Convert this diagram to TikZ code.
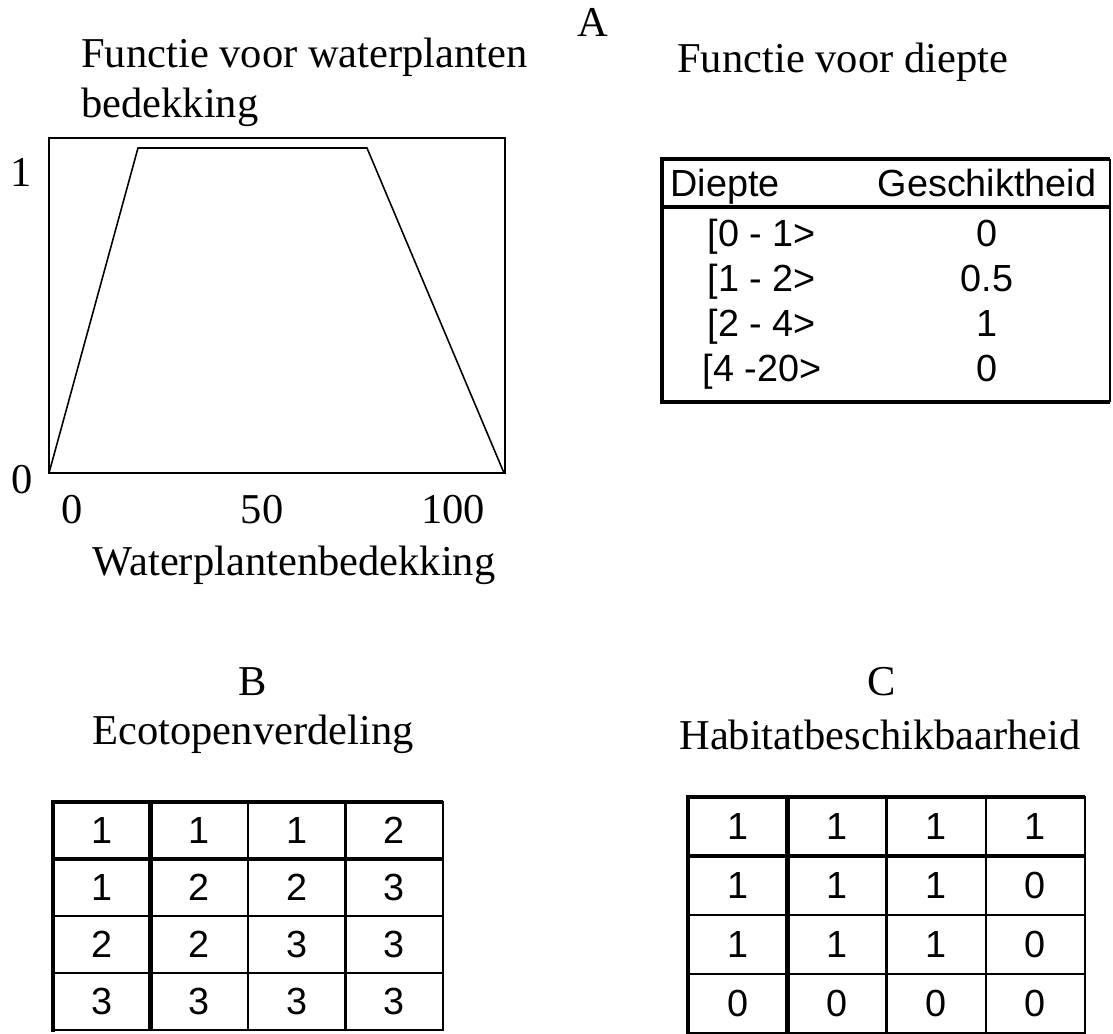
\documentclass[tikz,border=0pt]{standalone}
\usepackage{fontspec}
\setmainfont{Liberation Serif}
\newfontfamily\tabfont{Liberation Sans}
\usetikzlibrary{positioning}

\begin{document}
\begin{tikzpicture}[
  x=0.02cm, y=-0.02cm,
  ttl/.style={font=\fontsize{24.2}{29}\selectfont, inner sep=0pt},
  cell/.style={font=\tabfont\fontsize{21.5}{26}\selectfont, inner sep=0pt},
  thickline/.style={line width=2.8pt},
  thinline/.style={line width=1.4pt},
  curve/.style={line width=0.9pt, line join=miter}
]
\useasboundingbox (0,0) rectangle (1113,1034);

% A: functie voor waterplanten
\node[ttl, anchor=base] (lblA) at (593,37) {A};
\node[ttl, anchor=base west] (ttlplant) at (81,68) {Functie voor waterplanten};
\node[ttl, anchor=base west] (ttlplantb) at (81,118) {bedekking};
\draw[line width=1.3pt] (49,138) rectangle (505,473);
\draw[curve] (49,473) -- (138,148) -- (367,148) -- (504,473);
\node[ttl, anchor=base] (yone) at (21,187) {1};
\node[ttl, anchor=base] (yzero) at (22,493) {0};
\foreach \v/\x in {0/72, 50/262, 100/453}
  \node[ttl, anchor=base] (xt\v) at (\x,523) {\v};
\node[ttl, anchor=base] (xlabel) at (294,575) {Waterplantenbedekking};

% A: functie voor diepte
\node[ttl, anchor=base west] (ttldepth) at (677,73) {Functie voor diepte};
\draw[thinline] (1110,159) -- (1110,402);
\draw[thickline] (662,159) -- (1110,159);
\draw[thickline] (662,207) -- (1110,207);
\draw[thickline] (662,402) -- (1110,402);
\draw[thickline] (662,157) -- (662,404);
\node[cell, anchor=base west] (hdepth) at (670,196) {Diepte};
\node[cell, anchor=base] (hsuit) at (987,196) {Geschiktheid};
\foreach \d/\s [count=\r] in {{[0 - 1>}/0, {[1 - 2>}/0.5, {[2 - 4>}/1, {[4 -20>}/0} {
  \node[cell, anchor=base] (dep\r) at (762,{201+45*\r}) {\d};
  \node[cell, anchor=base] (suit\r) at (987,{201+45*\r}) {\s};
}

% B: ecotopenverdeling
\node[ttl, anchor=base] (lblB) at (253,695) {B};
\node[ttl, anchor=base] (ttleco) at (253,744) {Ecotopenverdeling};
\draw[thinline] (53,802) rectangle (443,1030);
\foreach \c in {2,3} \draw[thinline] ({53+97.5*\c},802) -- ({53+97.5*\c},1030);
\foreach \r in {2,3} \draw[thinline] (53,{802+57*\r}) -- (443,{802+57*\r});
\draw[thickline] (53,802) -- (443,802);
\draw[thickline] (53,859) -- (443,859);
\draw[thickline] (53,800) -- (53,1032);
\draw[thickline] (150.5,802) -- (150.5,1030);
\foreach \row [count=\r] in {{1,1,1,2},{1,2,2,3},{2,2,3,3},{3,3,3,3}}
  \foreach \v [count=\c] in \row
    \node[cell] (eco-\r-\c) at ({53+97.5*(\c-0.5)},{802+57*(\r-0.5)}) {\v};

% C: habitatbeschikbaarheid
\node[ttl, anchor=base] (lblC) at (882,695) {C};
\node[ttl, anchor=base] (ttlhab) at (880,749) {Habitatbeschikbaarheid};
\draw[thinline] (688,797) rectangle (1085,1033);
\foreach \c in {2,3} \draw[thinline] ({688+99.25*\c},797) -- ({688+99.25*\c},1033);
\foreach \r in {2,3} \draw[thinline] (688,{797+59*\r}) -- (1085,{797+59*\r});
\draw[thickline] (688,797) -- (1085,797);
\draw[thickline] (688,856) -- (1085,856);
\draw[thickline] (688,795) -- (688,1035);
\draw[thickline] (787.25,797) -- (787.25,1033);
\foreach \row [count=\r] in {{1,1,1,1},{1,1,1,0},{1,1,1,0},{0,0,0,0}}
  \foreach \v [count=\c] in \row
    \node[cell] (hab-\r-\c) at ({688+99.25*(\c-0.5)},{797+59*(\r-0.5)}) {\v};
\end{tikzpicture}
\end{document}
